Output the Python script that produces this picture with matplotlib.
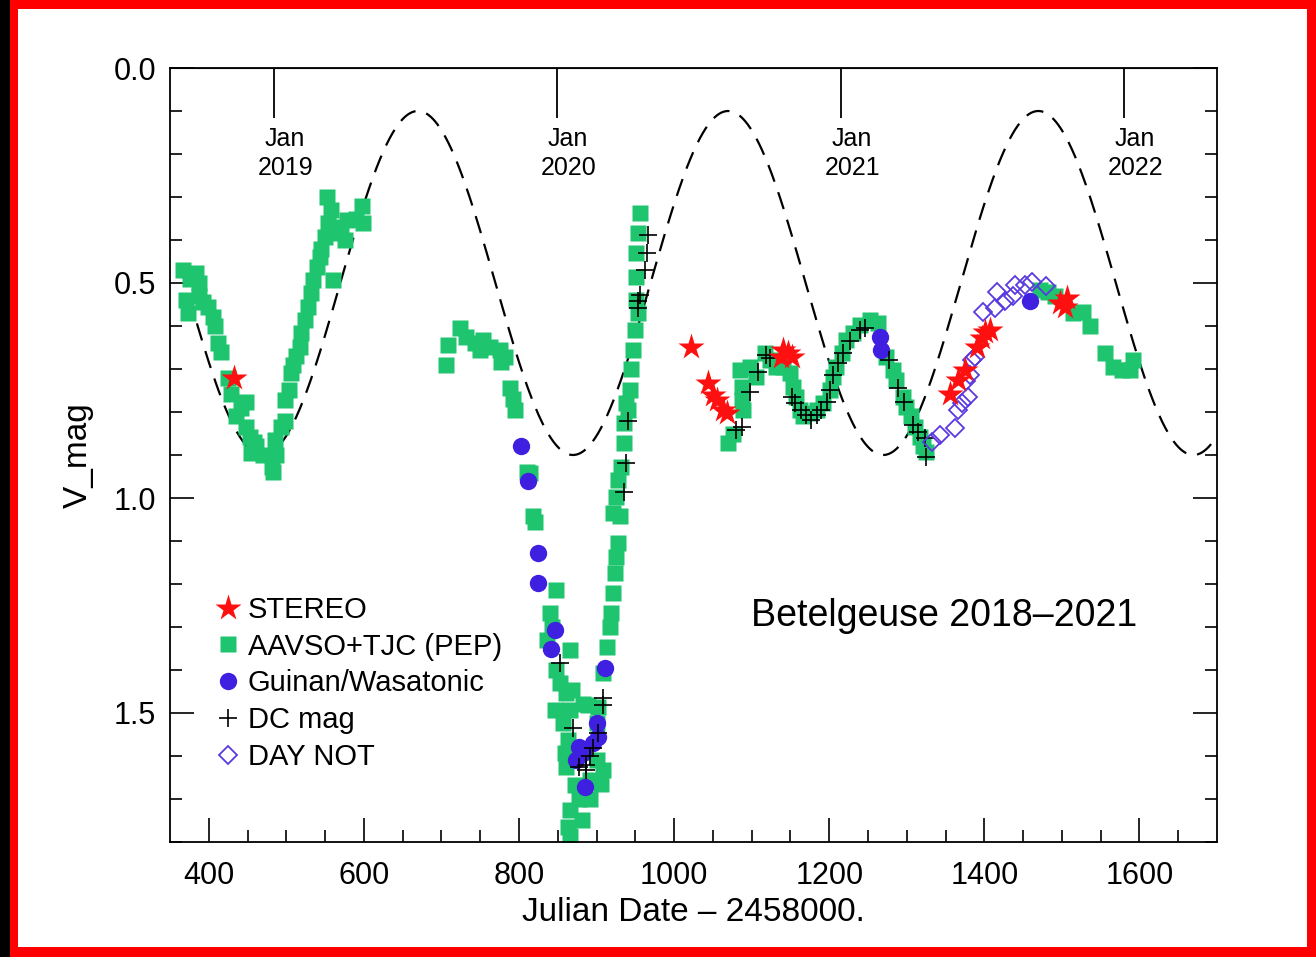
import numpy as np
import matplotlib
matplotlib.use('Agg')
import matplotlib.pyplot as plt
from matplotlib.patches import Rectangle
from matplotlib.transforms import blended_transform_factory

plt.rcParams['font.family'] = ['Liberation Sans', 'DejaVu Sans']

# AAVSO+TJC (PEP) photometry, JD - 2458000 and V mag
aavso_jd = [367, 384, 388, 371, 388, 373, 399, 405.6, 408, 412, 425, 429, 448.6, 435.7, 448.6,
            453, 455, 461.5, 481, 482.5, 485, 493.7, 498, 498, 504, 506.6, 513, 517, 519.5, 524,
            528, 532, 534.5, 539, 543, 560, 551.8, 558, 554, 562.5, 575, 577.6, 597, 599, 549.6,
            376, 392, 416, 441, 458, 470, 487, 509, 545, 570, 590,
            706.5, 708.6, 723.6, 732, 743, 753.7, 749.4, 762, 775, 777, 781.7, 788, 792, 794.6,
            809.7, 814, 818, 820, 848, 840, 842, 835.6, 865.5, 848, 852.6, 861, 846, 865.5, 882.7,
            857, 863, 859, 861, 908.5, 900, 906, 891, 865.5, 878, 863, 880.6, 865.5, 868, 888.7,
            891, 872, 900, 902, 908.5, 913, 917, 919, 921, 923.5, 925.7, 928, 921, 930, 925.7, 928,
            932, 936, 936, 938.6, 941, 943, 945, 947, 949.3, 953.6, 951.5, 951.5, 951.5, 953.6,
            955.8,
            1069.6, 1076, 1084.7, 1087, 1087, 1089, 1097.6, 1106, 1117, 1123.4, 1132, 1140.5, 1149,
            1153.5, 1157.8, 1162, 1166.4, 1175, 1183.6, 1192, 1200.6, 1205, 1209, 1216, 1222, 1231,
            1239.4, 1252, 1263, 1273.8, 1282.4, 1286.7, 1295, 1299.6, 1306, 1310, 1316.7, 1321,
            1325.4,
            1471.5, 1482.3, 1491, 1514.5, 1527.4, 1536, 1555.4, 1566, 1577, 1592, 1587.6]
aavso_mag = [0.470, 0.477, 0.50, 0.54, 0.53, 0.57, 0.555, 0.578, 0.60, 0.64, 0.72, 0.757, 0.776,
             0.81, 0.834, 0.857, 0.896, 0.88, 0.927, 0.94, 0.865, 0.834, 0.82, 0.772, 0.749, 0.71,
             0.67, 0.648, 0.617, 0.586, 0.555, 0.524, 0.493, 0.462, 0.44, 0.493, 0.30, 0.33, 0.361,
             0.384, 0.40, 0.353, 0.322, 0.361, 0.392,
             0.49, 0.545, 0.66, 0.79, 0.87, 0.90, 0.90, 0.69, 0.42, 0.37, 0.35,
             0.69, 0.644, 0.605, 0.625, 0.64, 0.633, 0.656, 0.648, 0.656, 0.683, 0.671, 0.745,
             0.77, 0.795, 0.939, 0.943, 1.043, 1.055, 1.214, 1.268, 1.30, 1.33, 1.353, 1.40, 1.431,
             1.454, 1.493, 1.493, 1.478, 1.524, 1.563, 1.594, 1.625, 1.633, 1.609, 1.664, 1.70,
             1.726, 1.70, 1.764, 1.749, 1.787, 1.447, 1.481, 1.656, 1.667, 1.524, 1.485, 1.408,
             1.346, 1.30, 1.268, 1.222, 1.175, 1.137, 1.105, 1.036, 1.043, 0.997, 0.958, 0.927,
             0.873, 0.826, 0.78, 0.795, 0.749, 0.70, 0.656, 0.609, 0.57, 0.54, 0.485, 0.431, 0.384,
             0.338,
             0.873, 0.85, 0.702, 0.741, 0.772, 0.795, 0.695, 0.718, 0.663, 0.679, 0.695, 0.695,
             0.71, 0.741, 0.764, 0.795, 0.81, 0.803, 0.795, 0.78, 0.749, 0.718, 0.695, 0.663, 0.633,
             0.617, 0.598, 0.586, 0.594, 0.671, 0.702, 0.726, 0.764, 0.788, 0.81, 0.834, 0.857,
             0.88, 0.892,
             0.516, 0.52, 0.531, 0.57, 0.567, 0.60, 0.663, 0.695, 0.702, 0.679, 0.702]

# STEREO
stereo_jd = [432.6, 1022.4, 1044, 1050, 1054.7, 1063, 1067.6, 1140.5, 1147, 1151.4, 1138.4,
             1355.5, 1366.3, 1375, 1390, 1396.4, 1400.6, 1407, 1497.3, 1503.8, 1506]
stereo_mag = [0.722, 0.648, 0.733, 0.76, 0.772, 0.795, 0.803, 0.656, 0.663, 0.671, 0.671,
              0.757, 0.726, 0.702, 0.648, 0.629, 0.613, 0.609, 0.547, 0.555, 0.536]

# Guinan / Wasatonic
guinan_jd = [803, 811, 824.6, 824.6, 846, 841.6, 910.6, 900, 902, 878, 874, 895.6, 885, 882.7,
             1265.3, 1267.4, 1458.7]
guinan_mag = [0.88, 0.96, 1.129, 1.198, 1.307, 1.35, 1.396, 1.524, 1.555, 1.578, 1.609, 1.57,
              1.671, 1.594, 0.625, 0.656, 0.543]

# DC mag
dc_jd = [966.5, 964.4, 962, 955.8, 953.6, 953.6, 940.6, 938.5, 936, 852.6, 869.8, 908.5, 908.5,
         902, 895.6, 891, 887, 878, 887,
         1080, 1087, 1097.6, 1108, 1119, 1123.4, 1151.4, 1155.6, 1164, 1170.7, 1177, 1183.6,
         1190, 1196.6, 1200.6, 1205, 1211.4, 1218, 1226.6, 1239.4, 1246, 1277.5, 1288.5, 1297,
         1307.8, 1314.3, 1323, 1325.4]
dc_mag = [0.388, 0.431, 0.47, 0.528, 0.543, 0.559, 0.822, 0.919, 0.985, 1.384, 1.536, 1.466,
          1.481, 1.547, 1.582, 1.60, 1.62, 1.625, 1.633,
          0.842, 0.834, 0.753, 0.706, 0.667, 0.675, 0.764, 0.78, 0.795, 0.807, 0.819, 0.807,
          0.795, 0.776, 0.749, 0.714, 0.687, 0.663, 0.636, 0.609, 0.605, 0.679, 0.745, 0.776,
          0.83, 0.846, 0.861, 0.904]

# DAY NOT
day_jd = [1332, 1342.6, 1362, 1366, 1370.6, 1379, 1377, 1381.3, 1383.5, 1387.7, 1398.4, 1413.5,
          1415.7, 1426.4, 1437, 1439.3, 1452, 1460.9, 1480]
day_mag = [0.869, 0.853, 0.838, 0.795, 0.78, 0.764, 0.729, 0.714, 0.679, 0.671, 0.567, 0.559,
           0.52, 0.543, 0.531, 0.505, 0.505, 0.497, 0.508]

# sinusoid model drawn dashed (period, mean, half amplitude, epoch of max brightness)
period = 400.0
mean_mag = 0.5
half_amp = 0.4
epoch_max = 669.6
model_start, model_end = 364, 1700

# new-year markers on the top axis
jan_jd = [484.5, 849.5, 1215.5, 1580.5]
jan_labels = ['Jan\n2019', 'Jan\n2020', 'Jan\n2021', 'Jan\n2022']


def draw_frame(fig):
    # black page, red border, white plot area
    fig.patch.set_facecolor('black')
    fig.patches.append(Rectangle((10 / 1316, 0), 1306 / 1316, 1, transform=fig.transFigure,
                                 facecolor='#ff0000', edgecolor='none', zorder=-2))
    fig.patches.append(Rectangle((18 / 1316, 10 / 957), 1289 / 1316, 938 / 957,
                                 transform=fig.transFigure, facecolor='white',
                                 edgecolor='none', zorder=-1))


def plot_lightcurve():
    fig = plt.figure(figsize=(13.16, 9.57), dpi=100)
    draw_frame(fig)
    ax = fig.add_axes([170 / 1316, 1 - 842 / 957, 1047 / 1316, 774 / 957])
    ax.set_facecolor('none')

    t = np.linspace(model_start, model_end, 1500)
    model = mean_mag - half_amp * np.cos(2 * np.pi * (t - epoch_max) / period)
    ax.plot(t, model, color='black', lw=1.6, dashes=(8, 5), zorder=1)

    ax.plot(aavso_jd, aavso_mag, 's', color='#1ec46e', ms=11, mec='none', zorder=2,
            label='AAVSO+TJC (PEP)')
    ax.plot(guinan_jd, guinan_mag, 'o', color='#3f1fe0', ms=12.5, mec='none', zorder=3,
            label='Guinan/Wasatonic')
    ax.plot(dc_jd, dc_mag, '+', color='black', ms=13, mew=1.2, zorder=4, label='DC mag')
    ax.plot(day_jd, day_mag, 'D', mfc='none', mec='#5a3ae0', ms=9, mew=1.3, zorder=5,
            label='DAY NOT')
    ax.plot(stereo_jd, stereo_mag, '*', color='#ff1010', ms=20, mec='none', zorder=6,
            label='STEREO')

    ax.set_xlim(350, 1700)
    ax.set_ylim(1.8, 0.0)
    ax.set_xticks(np.arange(400, 1700, 200))
    ax.set_xticks(np.arange(400, 1700, 50), minor=True)
    ax.set_yticks([0.0, 0.5, 1.0, 1.5])
    ax.set_yticklabels(['0.0', '0.5', '1.0', '1.5'])
    ax.set_yticks(np.arange(0, 1.81, 0.1), minor=True)
    ax.tick_params(which='both', direction='in', top=False, right=True, width=1.2,
                   labelsize=22)
    ax.tick_params(axis='x', pad=14)
    ax.tick_params(axis='y', pad=10)
    ax.tick_params(which='major', length=17)
    ax.tick_params(which='minor', length=8.5)
    for s in ax.spines.values():
        s.set_linewidth(1.3)

    # Jan ticks on the top axis
    top = ax.secondary_xaxis('top')
    top.set_xticks(jan_jd)
    top.tick_params(direction='in', length=36, width=1.3, labeltop=False)
    trans = blended_transform_factory(ax.transData, ax.transAxes)
    for d, lab in zip(jan_jd, jan_labels):
        ax.text(d + 14, 0.89, lab, transform=trans, ha='center', va='center', fontsize=18,
                linespacing=1.25)

    ax.set_xlabel('Julian Date \u2013 2458000.', fontsize=24, labelpad=4)
    ax.set_ylabel('V_mag', fontsize=24, labelpad=14)
    ax.text(0.555, 0.292, 'Betelgeuse 2018\u20132021', transform=ax.transAxes, fontsize=27,
            ha='left', va='center')

    h, l = ax.get_legend_handles_labels()
    order = [4, 0, 1, 2, 3]
    ax.legend([h[i] for i in order], [l[i] for i in order], loc='upper left',
              bbox_to_anchor=(0.033, 0.333), frameon=False, fontsize=21, handlelength=0.8,
              handletextpad=0.28, labelspacing=0.3, borderaxespad=0)

    fig.savefig('out.png', dpi=100, facecolor=fig.get_facecolor())


def main():
    plot_lightcurve()


if __name__ == "__main__":
    main()
